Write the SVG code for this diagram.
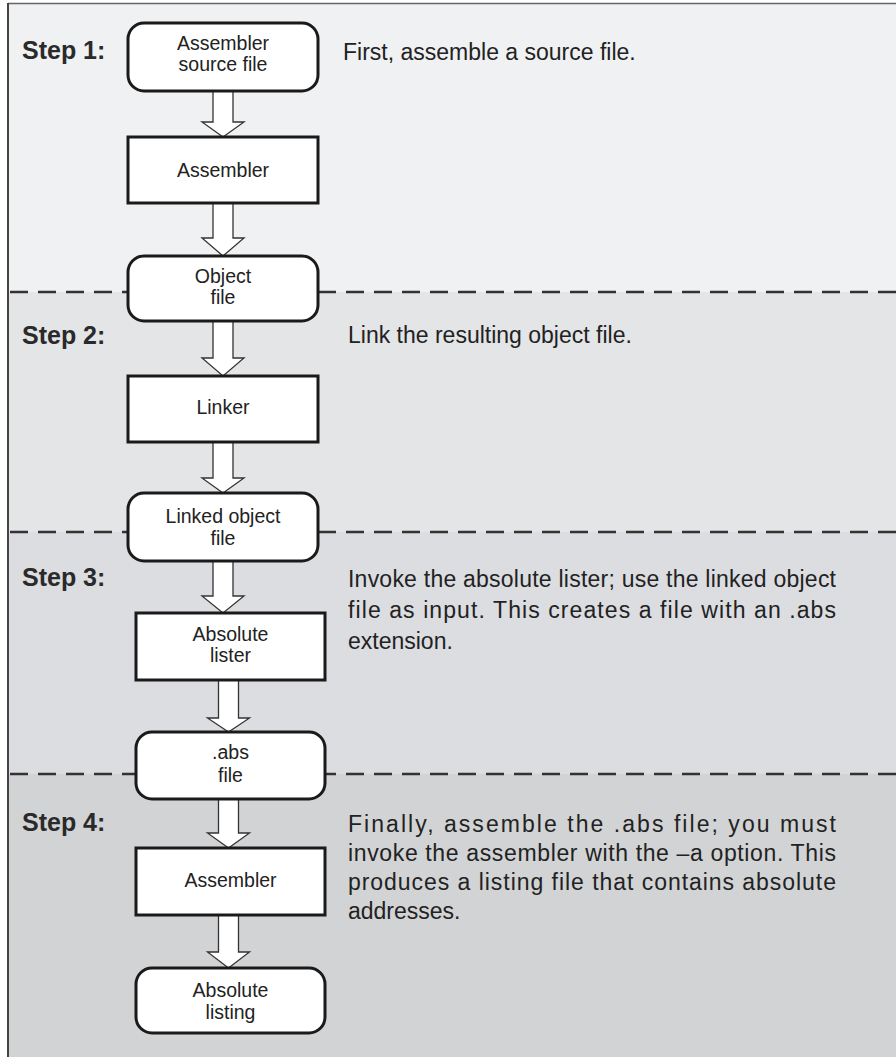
<svg xmlns="http://www.w3.org/2000/svg" width="896" height="1057" viewBox="0 0 896 1057">
<style>
.bg{stroke:none}
.node{fill:#ffffff;stroke:#1a1a1a;stroke-width:3}
.nt{font-family:"Liberation Sans",Arial,sans-serif;font-size:19.5px;fill:#222;text-anchor:middle}
.step{font-family:"Liberation Sans",Arial,sans-serif;font-size:25px;font-weight:bold;fill:#2a2a2a}
.desc{font-family:"Liberation Sans",Arial,sans-serif;font-size:23px;fill:#222}
.dash{stroke:#333;stroke-width:2.5;stroke-dasharray:18 10;fill:none}
.arrow{fill:#ffffff;stroke:#333;stroke-width:1.3;stroke-linejoin:miter}
</style>
<rect x="0" y="0" width="896" height="1057" fill="#ffffff"/>
<g id="background">
<rect class="bg" x="8" y="3" width="888" height="289" fill="#f0f1f3"/>
<rect class="bg" x="8" y="292" width="888" height="240" fill="#e4e5e7"/>
<rect class="bg" x="8" y="532" width="888" height="242" fill="#dcdde0"/>
<rect class="bg" x="8" y="774" width="888" height="283" fill="#d2d3d5"/>
<line x1="8" y1="3.5" x2="896" y2="3.5" stroke="#666" stroke-width="1.5"/>
<line x1="8" y1="3" x2="8" y2="1057" stroke="#444" stroke-width="2"/>
<line class="dash" x1="10" y1="292" x2="896" y2="292"/>
<line class="dash" x1="10" y1="532" x2="896" y2="532"/>
<line class="dash" x1="10" y1="774" x2="896" y2="774"/>
</g>
<g id="labels">
<text class="step" x="22" y="59">Step 1:</text>
<text class="step" x="22" y="344">Step 2:</text>
<text class="step" x="22" y="586">Step 3:</text>
<text class="step" x="22" y="831">Step 4:</text>
<text class="desc" x="343" y="60">First, assemble a source file.</text>
<text class="desc" x="348" y="343">Link the resulting object file.</text>
<text class="desc" x="348" y="587" textLength="488" lengthAdjust="spacing">Invoke the absolute lister; use the linked object</text>
<text class="desc" x="348" y="618" textLength="488" lengthAdjust="spacing">file as input. This creates a file with an .abs</text>
<text class="desc" x="348" y="649">extension.</text>
<text class="desc" x="348" y="832" textLength="488" lengthAdjust="spacing">Finally, assemble the .abs file; you must</text>
<text class="desc" x="348" y="861" textLength="488" lengthAdjust="spacing">invoke the assembler with the –a option. This</text>
<text class="desc" x="348" y="890" textLength="488" lengthAdjust="spacing">produces a listing file that contains absolute</text>
<text class="desc" x="348" y="919">addresses.</text>
</g>
<g id="connectors">
<polygon class="arrow" points="213,91 233,91 233,122 244,122 223,137 202,122 213,122"/>
<polygon class="arrow" points="213,203 233,203 233,238 244,238 223,256 202,238 213,238"/>
<polygon class="arrow" points="213,321 233,321 233,358 244,358 223,376 202,358 213,358"/>
<polygon class="arrow" points="213,442 233,442 233,478 244,478 223,493 202,478 213,478"/>
<polygon class="arrow" points="213,561 233,561 233,596 244,596 223,613 202,596 213,596"/>
<polygon class="arrow" points="218.5,680 238.5,680 238.5,718 249.5,718 228.5,732 207.5,718 218.5,718"/>
<polygon class="arrow" points="218.5,799 238.5,799 238.5,833 249.5,833 228.5,848 207.5,833 218.5,833"/>
<polygon class="arrow" points="218.5,915 238.5,915 238.5,952 249.5,952 228.5,968 207.5,952 218.5,952"/>
</g>
<g id="n1"><rect class="node" x="128" y="23" width="190" height="68" rx="16"/><text class="nt" x="223" y="50">Assembler</text><text class="nt" x="223" y="71">source file</text></g>
<g id="n2"><rect class="node" x="128" y="137" width="190" height="66"/><text class="nt" x="223" y="177">Assembler</text></g>
<g id="n3"><rect class="node" x="128" y="256" width="190" height="65" rx="16"/><text class="nt" x="223" y="283">Object</text><text class="nt" x="223" y="304">file</text></g>
<g id="n4"><rect class="node" x="128" y="376" width="190" height="66"/><text class="nt" x="223" y="414">Linker</text></g>
<g id="n5"><rect class="node" x="128" y="493" width="190" height="68" rx="16"/><text class="nt" x="223" y="523">Linked object</text><text class="nt" x="223" y="545">file</text></g>
<g id="n6"><rect class="node" x="136" y="613" width="189" height="67"/><text class="nt" x="230.5" y="641">Absolute</text><text class="nt" x="230.5" y="662">lister</text></g>
<g id="n7"><rect class="node" x="136" y="732" width="189" height="67" rx="16"/><text class="nt" x="230.5" y="759">.abs</text><text class="nt" x="230.5" y="782">file</text></g>
<g id="n8"><rect class="node" x="136" y="848" width="189" height="67"/><text class="nt" x="230.5" y="887">Assembler</text></g>
<g id="n9"><rect class="node" x="136" y="968" width="189" height="65" rx="16"/><text class="nt" x="230.5" y="997">Absolute</text><text class="nt" x="230.5" y="1019">listing</text></g>
</svg>
